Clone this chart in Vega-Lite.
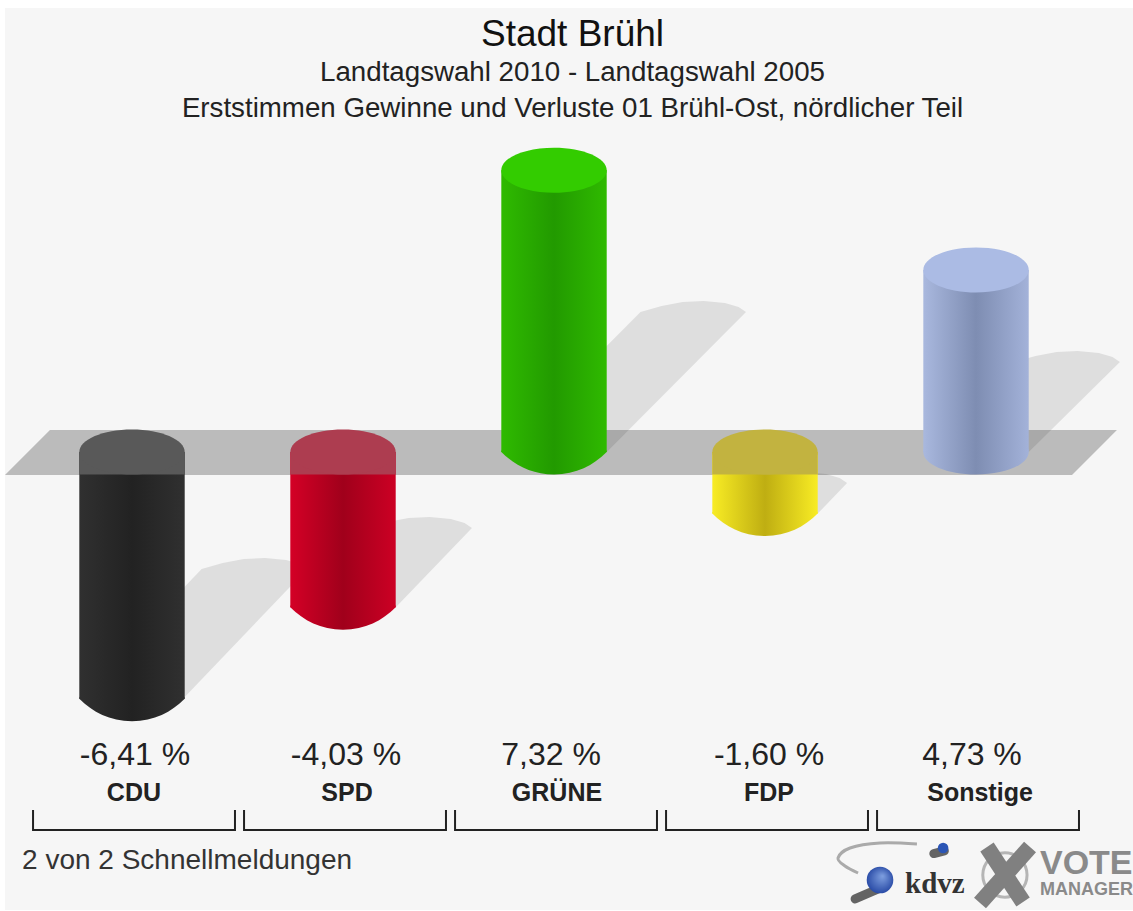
{
"$schema":"https://vega.github.io/schema/vega-lite/v6.json",
"width":1133,"height":911,"padding":0,"autosize":{"type":"none"},"background":"#ffffff",
"config":{"view":{"stroke":null},"axis":{"disable":true}},
"title":{"text":"Stadt Brühl","subtitle":["Landtagswahl 2010 - Landtagswahl 2005","Erststimmen Gewinne und Verluste 01 Brühl-Ost, nördlicher Teil"],"anchor":"middle","orient":"top","offset":-124,"dx":6,"font":"Liberation Sans","fontSize":37,"fontWeight":"normal","color":"#111111","subtitleFont":"Liberation Sans","subtitleFontSize":27.7,"subtitleColor":"#222222","subtitleLineHeight":36,"subtitlePadding":5},
"datasets":{
"parties":[
{"party":"CDU","pos":1,"value":-6.41,"label":"-6,41 %","valuePos":1.014,"namePos":1.009},
{"party":"SPD","pos":2,"value":-4.03,"label":"-4,03 %","valuePos":2.014,"namePos":2.019},
{"party":"GRÜNE","pos":3,"value":7.32,"label":"7,32 %","valuePos":2.986,"namePos":3.014},
{"party":"FDP","pos":4,"value":-1.6,"label":"-1,60 %","valuePos":4.019,"namePos":4.019},
{"party":"Sonstige","pos":5,"value":4.73,"label":"4,73 %","valuePos":4.981,"namePos":5.019}],
"shadows":[
{"g":"CDU","o":0,"x":0.75,"y":-6.364},{"g":"CDU","o":1,"x":1.25,"y":-6.364},{"g":"CDU","o":2,"x":1.83,"y":-3.04},{"g":"CDU","o":3,"x":1.795,"y":-2.91},{"g":"CDU","o":4,"x":1.73,"y":-2.806},{"g":"CDU","o":5,"x":1.63,"y":-2.754},{"g":"CDU","o":6,"x":1.53,"y":-2.78},{"g":"CDU","o":7,"x":1.43,"y":-2.884},{"g":"CDU","o":8,"x":1.33,"y":-3.04},
{"g":"SPD","o":0,"x":1.75,"y":-4.03},{"g":"SPD","o":1,"x":2.25,"y":-4.03},{"g":"SPD","o":2,"x":2.611,"y":-1.974},{"g":"SPD","o":3,"x":2.576,"y":-1.844},{"g":"SPD","o":4,"x":2.511,"y":-1.74},{"g":"SPD","o":5,"x":2.411,"y":-1.688},{"g":"SPD","o":6,"x":2.311,"y":-1.714},{"g":"SPD","o":7,"x":2.211,"y":-1.818},{"g":"SPD","o":8,"x":2.111,"y":-1.974},
{"g":"GRÜNE","o":0,"x":2.75,"y":0},{"g":"GRÜNE","o":1,"x":3.25,"y":0},{"g":"GRÜNE","o":2,"x":3.91,"y":3.636},{"g":"GRÜNE","o":3,"x":3.875,"y":3.766},{"g":"GRÜNE","o":4,"x":3.81,"y":3.87},{"g":"GRÜNE","o":5,"x":3.71,"y":3.922},{"g":"GRÜNE","o":6,"x":3.61,"y":3.896},{"g":"GRÜNE","o":7,"x":3.51,"y":3.792},{"g":"GRÜNE","o":8,"x":3.41,"y":3.636},
{"g":"FDP","o":0,"x":3.75,"y":-1.6},{"g":"FDP","o":1,"x":4.25,"y":-1.6},{"g":"FDP","o":2,"x":4.389,"y":-0.805},{"g":"FDP","o":3,"x":4.354,"y":-0.675},{"g":"FDP","o":4,"x":4.289,"y":-0.571},{"g":"FDP","o":5,"x":4.189,"y":-0.519},{"g":"FDP","o":6,"x":4.089,"y":-0.545},{"g":"FDP","o":7,"x":3.989,"y":-0.649},{"g":"FDP","o":8,"x":3.889,"y":-0.805},
{"g":"Sonstige","o":0,"x":4.75,"y":0},{"g":"Sonstige","o":1,"x":5.25,"y":0},{"g":"Sonstige","o":2,"x":5.682,"y":2.338},{"g":"Sonstige","o":3,"x":5.647,"y":2.468},{"g":"Sonstige","o":4,"x":5.582,"y":2.572},{"g":"Sonstige","o":5,"x":5.482,"y":2.624},{"g":"Sonstige","o":6,"x":5.382,"y":2.598},{"g":"Sonstige","o":7,"x":5.282,"y":2.494},{"g":"Sonstige","o":8,"x":5.182,"y":2.338}],
"plane":[{"o":0,"x":0.398,"y":-0.597},{"o":1,"x":0.611,"y":0.571},{"o":2,"x":5.668,"y":0.571},{"o":3,"x":5.455,"y":-0.597}],
"brackets":[
{"g":"a","o":0,"x":0.531,"y":-9.325},{"g":"a","o":1,"x":0.531,"y":-9.818},{"g":"a","o":2,"x":1.488,"y":-9.818},{"g":"a","o":3,"x":1.488,"y":-9.325},
{"g":"b","o":0,"x":1.531,"y":-9.325},{"g":"b","o":1,"x":1.531,"y":-9.818},{"g":"b","o":2,"x":2.488,"y":-9.818},{"g":"b","o":3,"x":2.488,"y":-9.325},
{"g":"c","o":0,"x":2.531,"y":-9.325},{"g":"c","o":1,"x":2.531,"y":-9.818},{"g":"c","o":2,"x":3.488,"y":-9.818},{"g":"c","o":3,"x":3.488,"y":-9.325},
{"g":"d","o":0,"x":3.531,"y":-9.325},{"g":"d","o":1,"x":3.531,"y":-9.818},{"g":"d","o":2,"x":4.488,"y":-9.818},{"g":"d","o":3,"x":4.488,"y":-9.325},
{"g":"e","o":0,"x":4.531,"y":-9.325},{"g":"e","o":1,"x":4.531,"y":-9.818},{"g":"e","o":2,"x":5.488,"y":-9.818},{"g":"e","o":3,"x":5.488,"y":-9.325}]
},
"layer":[
{"data":{"values":[{"x":0.398,"x2":5.744,"y":11.532,"y2":-11.896}]},"mark":{"type":"rect","fill":"#f6f6f6"},
 "encoding":{"x":{"field":"x","type":"quantitative","scale":{"domain":[0.3744,5.744],"nice":false,"zero":false,"padding":0}},"x2":{"field":"x2"},"y":{"field":"y","type":"quantitative","scale":{"domain":[-11.922,11.74],"nice":false,"zero":false,"padding":0}},"y2":{"field":"y2"}}},
{"data":{"name":"shadows"},"mark":{"type":"line","fill":"#dedede","stroke":null,"strokeWidth":0},
 "encoding":{"x":{"field":"x","type":"quantitative"},"y":{"field":"y","type":"quantitative"},"detail":{"field":"g"},"order":{"field":"o","type":"quantitative"}}},
{"data":{"name":"plane"},"mark":{"type":"line","fill":"#000000","fillOpacity":0.24,"stroke":null,"strokeWidth":0},
 "encoding":{"x":{"field":"x","type":"quantitative"},"y":{"field":"y","type":"quantitative"},"order":{"field":"o","type":"quantitative"}}},

{"data":{"name":"parties"},"transform":[{"filter":"datum.party==='GRÜNE'"}],"mark":{"type":"point","shape":"M-1,-0.03L-1,0C-0.75,0.25,-0.42,0.427,0,0.427C0.42,0.427,0.75,0.25,1,0L1,-0.03Z","size":11109,"filled":true,"opacity":1,"fill":{"gradient":"linear","x1":0,"x2":1,"y1":0,"y2":0,"stops":[{"offset":0,"color":"#2fba00"},{"offset":0.5,"color":"#229a00"},{"offset":1,"color":"#2fba00"}]}},
 "encoding":{"x":{"field":"pos","type":"quantitative"},"y":{"datum":0}}},
{"data":{"name":"parties"},"transform":[{"filter":"datum.party==='Sonstige'"}],"mark":{"type":"point","shape":"M-1,0A1,0.427,0,1,1,1,0A1,0.427,0,1,1,-1,0Z","size":11109,"filled":true,"opacity":1,"fill":{"gradient":"linear","x1":0,"x2":1,"y1":0,"y2":0,"stops":[{"offset":0,"color":"#a9b8de"},{"offset":0.5,"color":"#7e8db2"},{"offset":1,"color":"#a3b2d9"}]}},
 "encoding":{"x":{"field":"pos","type":"quantitative"},"y":{"datum":0}}},
{"data":{"name":"parties"},"transform":[{"filter":"datum.party==='CDU'"}],"mark":{"type":"point","shape":"M-1,-0.03L-1,0C-0.75,0.25,-0.42,0.427,0,0.427C0.42,0.427,0.75,0.25,1,0L1,-0.03Z","size":11109,"filled":true,"opacity":1,"fill":{"gradient":"linear","x1":0,"x2":1,"y1":0,"y2":0,"stops":[{"offset":0,"color":"#303030"},{"offset":0.5,"color":"#222222"},{"offset":1,"color":"#303030"}]}},
 "encoding":{"x":{"field":"pos","type":"quantitative"},"y":{"field":"value","type":"quantitative"}}},
{"data":{"name":"parties"},"transform":[{"filter":"datum.party==='SPD'"}],"mark":{"type":"point","shape":"M-1,-0.03L-1,0C-0.75,0.25,-0.42,0.427,0,0.427C0.42,0.427,0.75,0.25,1,0L1,-0.03Z","size":11109,"filled":true,"opacity":1,"fill":{"gradient":"linear","x1":0,"x2":1,"y1":0,"y2":0,"stops":[{"offset":0,"color":"#d40026"},{"offset":0.5,"color":"#a0001b"},{"offset":1,"color":"#cc0024"}]}},
 "encoding":{"x":{"field":"pos","type":"quantitative"},"y":{"field":"value","type":"quantitative"}}},
{"data":{"name":"parties"},"transform":[{"filter":"datum.party==='FDP'"}],"mark":{"type":"point","shape":"M-1,-0.03L-1,0C-0.75,0.25,-0.42,0.427,0,0.427C0.42,0.427,0.75,0.25,1,0L1,-0.03Z","size":11109,"filled":true,"opacity":1,"fill":{"gradient":"linear","x1":0,"x2":1,"y1":0,"y2":0,"stops":[{"offset":0,"color":"#f8ec24"},{"offset":0.5,"color":"#bfae12"},{"offset":1,"color":"#f8ec24"}]}},
 "encoding":{"x":{"field":"pos","type":"quantitative"},"y":{"field":"value","type":"quantitative"}}},

{"data":{"name":"parties"},"transform":[{"filter":"datum.party==='CDU'"}],"mark":{"type":"bar","width":105.4,"orient":"vertical","fill":{"gradient":"linear","x1":0,"x2":1,"y1":0,"y2":0,"stops":[{"offset":0,"color":"#303030"},{"offset":0.5,"color":"#222222"},{"offset":1,"color":"#303030"}]}},
 "encoding":{"x":{"field":"pos","type":"quantitative"},"y":{"field":"value","type":"quantitative"},"y2":{"datum":0}}},
{"data":{"name":"parties"},"transform":[{"filter":"datum.party==='SPD'"}],"mark":{"type":"bar","width":105.4,"orient":"vertical","fill":{"gradient":"linear","x1":0,"x2":1,"y1":0,"y2":0,"stops":[{"offset":0,"color":"#d40026"},{"offset":0.5,"color":"#a0001b"},{"offset":1,"color":"#cc0024"}]}},
 "encoding":{"x":{"field":"pos","type":"quantitative"},"y":{"field":"value","type":"quantitative"},"y2":{"datum":0}}},
{"data":{"name":"parties"},"transform":[{"filter":"datum.party==='GRÜNE'"}],"mark":{"type":"bar","width":105.4,"orient":"vertical","fill":{"gradient":"linear","x1":0,"x2":1,"y1":0,"y2":0,"stops":[{"offset":0,"color":"#2fba00"},{"offset":0.5,"color":"#229a00"},{"offset":1,"color":"#2fba00"}]}},
 "encoding":{"x":{"field":"pos","type":"quantitative"},"y":{"field":"value","type":"quantitative"},"y2":{"datum":0}}},
{"data":{"name":"parties"},"transform":[{"filter":"datum.party==='FDP'"}],"mark":{"type":"bar","width":105.4,"orient":"vertical","fill":{"gradient":"linear","x1":0,"x2":1,"y1":0,"y2":0,"stops":[{"offset":0,"color":"#f8ec24"},{"offset":0.5,"color":"#bfae12"},{"offset":1,"color":"#f8ec24"}]}},
 "encoding":{"x":{"field":"pos","type":"quantitative"},"y":{"field":"value","type":"quantitative"},"y2":{"datum":0}}},
{"data":{"name":"parties"},"transform":[{"filter":"datum.party==='Sonstige'"}],"mark":{"type":"bar","width":105.4,"orient":"vertical","fill":{"gradient":"linear","x1":0,"x2":1,"y1":0,"y2":0,"stops":[{"offset":0,"color":"#a9b8de"},{"offset":0.5,"color":"#7e8db2"},{"offset":1,"color":"#a3b2d9"}]}},
 "encoding":{"x":{"field":"pos","type":"quantitative"},"y":{"field":"value","type":"quantitative"},"y2":{"datum":0}}},

{"data":{"name":"parties"},"transform":[{"filter":"datum.value<0"}],"mark":{"type":"bar","width":105.4,"orient":"vertical"},
 "encoding":{"x":{"field":"pos","type":"quantitative"},"y":{"datum":0},"y2":{"datum":-0.584},
 "color":{"field":"party","type":"nominal","legend":null,"scale":{"domain":["CDU","SPD","FDP"],"range":["#595959","#ad3d50","#c2b340"]}}}},
{"data":{"name":"parties"},"transform":[{"filter":"datum.value<0"}],"mark":{"type":"point","shape":"M-1,0A1,0.427,0,1,1,1,0A1,0.427,0,1,1,-1,0Z","size":11109,"filled":true,"opacity":1},
 "encoding":{"x":{"field":"pos","type":"quantitative"},"y":{"datum":0},
 "color":{"field":"party","type":"nominal","legend":null,"scale":{"domain":["CDU","SPD","FDP"],"range":["#595959","#ad3d50","#c2b340"]}}}},
{"data":{"name":"parties"},"transform":[{"filter":"datum.value>0"}],"mark":{"type":"point","shape":"M-1,0A1,0.427,0,1,1,1,0A1,0.427,0,1,1,-1,0Z","size":11109,"filled":true,"opacity":1},
 "encoding":{"x":{"field":"pos","type":"quantitative"},"y":{"field":"value","type":"quantitative"},
 "color":{"field":"party","type":"nominal","legend":null,"scale":{"domain":["GRÜNE","Sonstige"],"range":["#33cc00","#abbbe4"]}}}},

{"data":{"name":"parties"},"mark":{"type":"text","font":"Liberation Sans","fontSize":32,"color":"#222222","align":"center","baseline":"middle"},
 "encoding":{"x":{"field":"valuePos","type":"quantitative"},"y":{"datum":-7.87},"text":{"field":"label"}}},
{"data":{"name":"parties"},"mark":{"type":"text","font":"Liberation Sans","fontSize":25,"fontWeight":"bold","color":"#222222","align":"center","baseline":"middle"},
 "encoding":{"x":{"field":"namePos","type":"quantitative"},"y":{"datum":-8.86},"text":{"field":"party"}}},
{"data":{"name":"brackets"},"mark":{"type":"line","color":"#222222","strokeWidth":2,"strokeCap":"square"},
 "encoding":{"x":{"field":"x","type":"quantitative"},"y":{"field":"y","type":"quantitative"},"detail":{"field":"g"},"order":{"field":"o","type":"quantitative"}}},
{"data":{"values":[{"x":0.479,"y":-10.62,"t":"2 von 2 Schnellmeldungen"}]},"mark":{"type":"text","font":"Liberation Sans","fontSize":28,"color":"#333333","align":"left","baseline":"middle"},
 "encoding":{"x":{"field":"x","type":"quantitative"},"y":{"field":"y","type":"quantitative"},"text":{"field":"t"}}},
{"data":{"values":[{"g":"a","o":0,"x":4.72,"y":-10.18},{"g":"a","o":1,"x":4.545,"y":-10.156},{"g":"a","o":2,"x":4.403,"y":-10.286},{"g":"a","o":3,"x":4.346,"y":-10.545},{"g":"a","o":4,"x":4.379,"y":-10.753},{"g":"a","o":5,"x":4.441,"y":-10.935}]},"mark":{"type":"line","color":"#aaaaaa","strokeWidth":3,"interpolate":"cardinal"},
 "encoding":{"x":{"field":"x","type":"quantitative"},"y":{"field":"y","type":"quantitative"},"detail":{"field":"g"},"order":{"field":"o","type":"quantitative"}}},
{"data":{"values":[{"g":"a","o":0,"x":4.427,"y":-11.61},{"g":"a","o":1,"x":4.545,"y":-11.325},{"g":"b","o":0,"x":4.8,"y":-10.43},{"g":"b","o":1,"x":4.85,"y":-10.36}]},"mark":{"type":"line","color":"#333333","opacity":0.75,"strokeWidth":9,"strokeCap":"round"},
 "encoding":{"x":{"field":"x","type":"quantitative"},"y":{"field":"y","type":"quantitative"},"detail":{"field":"g"},"order":{"field":"o","type":"quantitative"}}},
{"data":{"values":[{"x":4.545,"y":-11.117}]},"mark":{"type":"point","shape":"circle","size":707,"filled":true,"opacity":1,"fill":{"gradient":"radial","x1":0.6,"y1":0.35,"r1":0,"x2":0.5,"y2":0.5,"r2":0.6,"stops":[{"offset":0,"color":"#7fa0e0"},{"offset":1,"color":"#1d3f9e"}]}},
 "encoding":{"x":{"field":"x","type":"quantitative"},"y":{"field":"y","type":"quantitative"}}},
{"data":{"values":[{"x":4.844,"y":-10.286}]},"mark":{"type":"point","shape":"circle","size":113,"filled":true,"opacity":1,"fill":"#2b55b5"},
 "encoding":{"x":{"field":"x","type":"quantitative"},"y":{"field":"y","type":"quantitative"}}},
{"data":{"values":[{"x":4.664,"y":-11.22,"t":"kdvz"}]},"mark":{"type":"text","font":"Liberation Serif","fontSize":29,"fontWeight":"bold","color":"#333333","align":"left","baseline":"middle"},
 "encoding":{"x":{"field":"x","type":"quantitative"},"y":{"field":"y","type":"quantitative"},"text":{"field":"t"}}},
{"data":{"values":[{"x":5.137,"y":-10.987}]},"mark":{"type":"point","shape":"circle","size":1960,"filled":false,"color":"#b5b5b5","strokeWidth":3,"opacity":1},
 "encoding":{"x":{"field":"x","type":"quantitative"},"y":{"field":"y","type":"quantitative"}}},
{"data":{"values":[{"g":"a","o":0,"x":5.052,"y":-10.26},{"g":"a","o":1,"x":5.223,"y":-11.688},{"g":"b","o":0,"x":5.256,"y":-10.26},{"g":"b","o":1,"x":5.019,"y":-11.714}]},"mark":{"type":"line","color":"#808080","strokeWidth":16},
 "encoding":{"x":{"field":"x","type":"quantitative"},"y":{"field":"y","type":"quantitative"},"detail":{"field":"g"},"order":{"field":"o","type":"quantitative"}}},
{"data":{"values":[{"x":5.303,"y":-10.7,"t":"VOTE"}]},"mark":{"type":"text","font":"Liberation Sans","fontSize":34,"fontWeight":"bold","color":"#8a8a8a","align":"left","baseline":"middle"},
 "encoding":{"x":{"field":"x","type":"quantitative"},"y":{"field":"y","type":"quantitative"},"text":{"field":"t"}}},
{"data":{"values":[{"x":5.303,"y":-11.377,"t":"MANAGER"}]},"mark":{"type":"text","font":"Liberation Sans","fontSize":18,"fontWeight":"bold","color":"#8a8a8a","align":"left","baseline":"middle"},
 "encoding":{"x":{"field":"x","type":"quantitative"},"y":{"field":"y","type":"quantitative"},"text":{"field":"t"}}}
],
"resolve":{"scale":{"color":"independent"}}
}
